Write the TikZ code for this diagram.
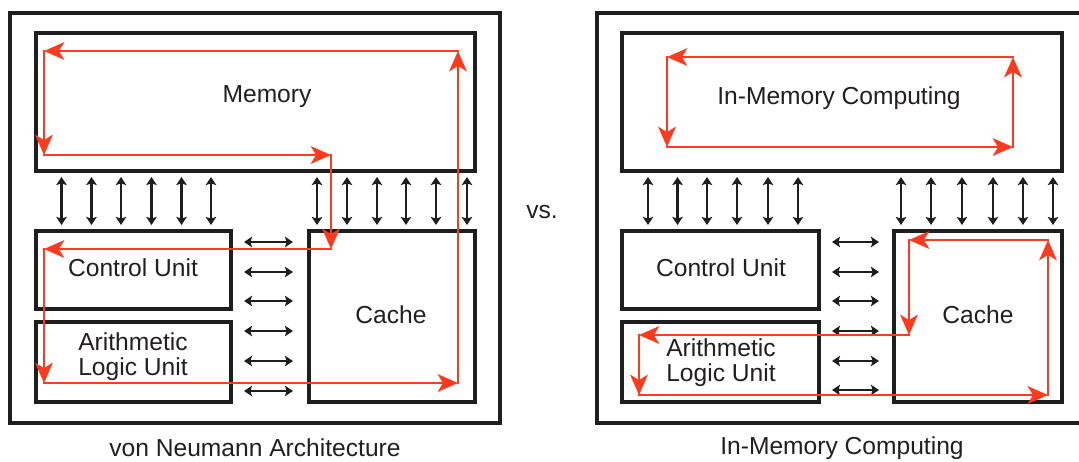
\documentclass[tikz,border=0pt]{standalone}
\usepackage{fontspec}
\setmainfont{Liberation Sans}
\usetikzlibrary{arrows.meta,fit}
\definecolor{flowred}{RGB}{252,58,30}
\definecolor{ink}{RGB}{30,30,30}
\definecolor{txt}{RGB}{35,31,32}
\begin{document}
\begin{tikzpicture}[x=0.02cm,y=-0.02cm,
  frame/.style={draw=ink,line width=1.75pt,inner sep=0pt,outer sep=0pt},
  lbl/.style={text=txt,font=\fontsize{14}{14.2}\selectfont,inner sep=0pt,align=center},
  bus/.style={draw=ink,line width=1.5pt,{Stealth[length=4.6pt,width=6pt,inset=1pt]}-{Stealth[length=4.6pt,width=6pt,inset=1pt]}},
  flow/.style={draw=flowred,line width=1.6pt,line cap=rect,-{Stealth[length=11.5pt,width=10pt,inset=3pt]}},
]
\useasboundingbox (0,0) rectangle (1079,461);
\clip (0,0) rectangle (1079,461);
\fill[white] (0,0) rectangle (1079,461);

% ---------- left panel: von Neumann ----------
\node[frame,fit={(10,13) (500,423)}] (outerL) {};
\node[frame,fit={(36,33) (475,171)}] (memL) {};
\node[frame,fit={(36,231) (231,309)}] (cuL) {};
\node[frame,fit={(36,322) (231,402)}] (aluL) {};
\node[frame,fit={(309,231) (475,402)}] (cacheL) {};

\node[lbl] (memLtxt) at (267,97) {Memory};
\node[lbl] (cuLtxt) at (133,268) {Control Unit};
\node[lbl] (cacheLtxt) at (391,315) {Cache};
\node[lbl] (aluLtxt) at (133,357) {Arithmetic\\Logic Unit};
\node[lbl] (capL) at (255,448) {von Neumann Architecture};

\foreach \x [count=\i] in {61.5,91.5,121,151.5,181.5,211,317,347,377,406,436,467}{
  \coordinate (vLt\i) at (\x,177);
  \coordinate (vLb\i) at (\x,225);
  \draw[bus] (vLt\i) -- (vLb\i);
}
\foreach \y [count=\i] in {242,272,301,331,361,391}{
  \coordinate (hLl\i) at (244,\y);
  \coordinate (hLr\i) at (293,\y);
  \draw[bus] (hLl\i) -- (hLr\i);
}

\coordinate (lA) at (458,51);
\coordinate (lB) at (44,51);
\coordinate (lC) at (44,155);
\coordinate (lD) at (331,155);
\coordinate (lE) at (331,249);
\coordinate (lF) at (44,249);
\coordinate (lG) at (44,383);
\coordinate (lH) at (458,383);
\draw[flow] (lA) -- (lB);
\draw[flow] (lB) -- (lC);
\draw[flow] (lC) -- (lD);
\draw[flow] (lD) -- (lE);
\draw[flow] (lE) -- (lF);
\draw[flow] (lF) -- (lG);
\draw[flow] (lG) -- (lH);
\draw[flow] (lH) -- (lA);

\node[lbl] (vs) at (542,212) {vs.};

% ---------- right panel: in-memory computing ----------
\node[frame,fit={(597,13) (1087,423)}] (outerR) {};
\node[frame,fit={(622,33) (1062,171)}] (memR) {};
\node[frame,fit={(622,231) (819,309)}] (cuR) {};
\node[frame,fit={(622,322) (819,402)}] (aluR) {};
\node[frame,fit={(894,231) (1062,402)}] (cacheR) {};

\node[lbl] (memRtxt) at (839,98) {In-Memory Computing};
\node[lbl] (cuRtxt) at (721,268) {Control Unit};
\node[lbl] (cacheRtxt) at (978,315) {Cache};
\node[lbl] (aluRtxt) at (721,363) {Arithmetic\\Logic Unit};
\node[lbl] (capR) at (842,448) {In-Memory Computing};

\foreach \x [count=\i] in {648,677.5,707,737,768,798,901,931,962,993,1023,1053}{
  \coordinate (vRt\i) at (\x,177);
  \coordinate (vRb\i) at (\x,225);
  \draw[bus] (vRt\i) -- (vRb\i);
}
\foreach \y [count=\i] in {242,272,301,331,361,390}{
  \coordinate (hRl\i) at (832,\y);
  \coordinate (hRr\i) at (879,\y);
  \draw[bus] (hRl\i) -- (hRr\i);
}

\coordinate (tA) at (1013,57);
\coordinate (tB) at (667,57);
\coordinate (tC) at (667,147);
\coordinate (tD) at (1013,147);
\draw[flow] (tA) -- (tB);
\draw[flow] (tB) -- (tC);
\draw[flow] (tC) -- (tD);
\draw[flow] (tD) -- (tA);

\coordinate (bA) at (1048,240);
\coordinate (bB) at (909,240);
\coordinate (bC) at (909,335);
\coordinate (bD) at (639,335);
\coordinate (bE) at (639,395);
\coordinate (bF) at (1048,395);
\draw[flow] (bA) -- (bB);
\draw[flow] (bB) -- (bC);
\draw[flow] (bC) -- (bD);
\draw[flow] (bD) -- (bE);
\draw[flow] (bE) -- (bF);
\draw[flow] (bF) -- (bA);
\end{tikzpicture}
\end{document}
